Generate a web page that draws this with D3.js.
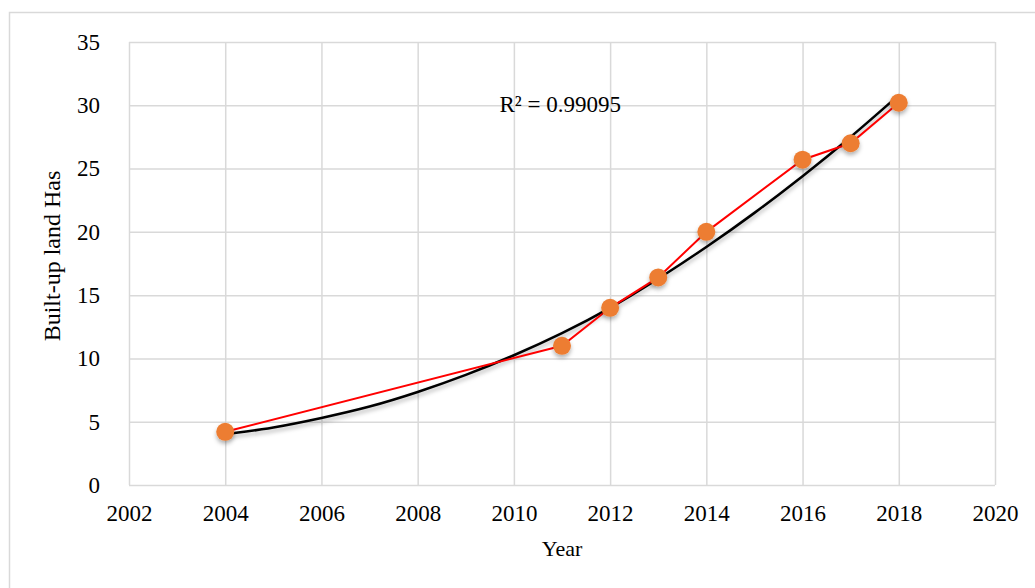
<!DOCTYPE html>
<html>
<head>
<meta charset="utf-8">
<script src="https://cdn.jsdelivr.net/npm/d3@7"></script>
<style>
  body { margin: 0; background: #fff; }
  text { font-family: "Liberation Serif", "DejaVu Serif", serif; fill: #000; }
</style>
</head>
<body>
<svg id="chart"></svg>
<script>
// observed built-up land (Has) per year
var years = [2004, 2011, 2012, 2013, 2014, 2016, 2017, 2018];
var builtUp = [4.2, 11.0, 14.0, 16.4, 20.0, 25.7, 27.0, 30.2];

// polynomial trendline at each year
var trendYears = [2004, 2005, 2006, 2007, 2008, 2009, 2010, 2011, 2012, 2013, 2014, 2015, 2016, 2017, 2018];
var trendValues = [4.0, 4.55, 5.3, 6.2, 7.35, 8.7, 10.25, 12.0, 14.0, 16.3, 18.8, 21.5, 24.4, 27.5, 30.8];

var xTicks = [2002, 2004, 2006, 2008, 2010, 2012, 2014, 2016, 2018, 2020];
var yTicks = [0, 5, 10, 15, 20, 25, 30, 35];
var r2Label = "R\u00B2 = 0.99095";

var W = 1035, H = 588;
var margin = {top: 42, right: 40, bottom: 103, left: 129};
var width = W - margin.left - margin.right,
    height = H - margin.top - margin.bottom;

var svg = d3.select("#chart").attr("width", W).attr("height", H);

// outer chart border
svg.append("rect")
    .attr("x", 9.5).attr("y", 12.5)
    .attr("width", W + 20).attr("height", H + 20)
    .attr("fill", "none")
    .attr("stroke", "#d9d9d9")
    .attr("stroke-width", 1.5);

// shadow for markers / trendline
var defs = svg.append("defs");
defs.append("filter").attr("id", "shadow")
    .attr("x", "-50%").attr("y", "-50%").attr("width", "200%").attr("height", "200%")
    .append("feDropShadow")
    .attr("dx", 0).attr("dy", 3).attr("stdDeviation", 2)
    .attr("flood-color", "#000").attr("flood-opacity", 0.3);

var g = svg.append("g")
    .attr("transform", "translate(" + margin.left + "," + margin.top + ")");

var x = d3.scaleLinear().domain([2002, 2020]).range([0, width]);
var y = d3.scaleLinear().domain([0, 35]).range([height, 0]);

// gridlines
g.append("g")
    .call(d3.axisLeft(y).tickValues(yTicks).tickSize(-width).tickFormat(""))
    .call(s => s.select(".domain").remove())
    .selectAll("line").attr("stroke", "#d9d9d9").attr("stroke-width", 1.5);

g.append("g")
    .attr("transform", "translate(0," + height + ")")
    .call(d3.axisBottom(x).tickValues(xTicks).tickSize(height).tickFormat(""))
    .call(s => s.select(".domain").remove())
    .selectAll("line")
    .attr("transform", "translate(0," + (-height) + ")")
    .attr("stroke", "#d9d9d9").attr("stroke-width", 1.5);

// y tick labels
g.append("g")
    .call(d3.axisLeft(y).tickValues(yTicks).tickSize(0).tickPadding(29))
    .call(s => s.select(".domain").remove())
    .selectAll("text")
    .style("font-size", "23px")
    .style("font-family", "'Liberation Serif', serif");

// x tick labels
g.append("g")
    .attr("transform", "translate(0," + height + ")")
    .call(d3.axisBottom(x).tickValues(xTicks).tickSize(0).tickPadding(20).tickFormat(d3.format("d")))
    .call(s => s.select(".domain").remove())
    .selectAll("text")
    .style("font-size", "23px")
    .style("font-family", "'Liberation Serif', serif");

// trendline
var trend = trendYears.map((d, i) => ({year: d, value: trendValues[i]}));
g.append("path")
    .datum(trend)
    .attr("fill", "none")
    .attr("stroke", "#000")
    .attr("stroke-width", 2.5)
    .attr("filter", "url(#shadow)")
    .attr("d", d3.line()
        .x(d => x(d.year))
        .y(d => y(d.value))
        .curve(d3.curveNatural));

// data series
var data = years.map((d, i) => ({year: d, value: builtUp[i]}));
g.append("path")
    .datum(data)
    .attr("fill", "none")
    .attr("stroke", "#ff0000")
    .attr("stroke-width", 2)
    .attr("d", d3.line().x(d => x(d.year)).y(d => y(d.value)));

g.selectAll(".dot")
    .data(data)
    .enter().append("circle")
    .attr("class", "dot")
    .attr("cx", d => x(d.year))
    .attr("cy", d => y(d.value))
    .attr("r", 9)
    .attr("fill", "#ed7d31")
    .attr("filter", "url(#shadow)");

// R squared
g.append("text")
    .attr("x", x(2009.7))
    .attr("y", y(29.5))
    .style("font-size", "23px")
    .text(r2Label);

// axis titles
svg.append("text")
    .attr("x", 562)
    .attr("y", 556)
    .attr("text-anchor", "middle")
    .style("font-size", "22px")
    .text("Year");

svg.append("text")
    .attr("transform", "translate(60," + 256 + ") rotate(-90)")
    .attr("text-anchor", "middle")
    .style("font-size", "24px")
    .text("Built-up land Has");
</script>
</body>
</html>
